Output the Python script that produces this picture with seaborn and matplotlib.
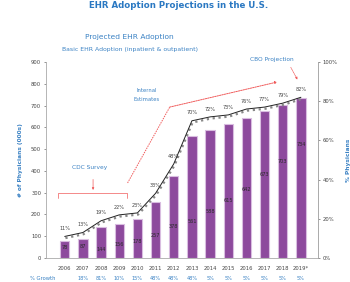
import matplotlib
matplotlib.use("Agg")
import matplotlib.pyplot as plt
import matplotlib.transforms as mtrans
import seaborn as sns
import pandas as pd

years = ["2006", "2007", "2008", "2009", "2010", "2011", "2012", "2013",
         "2014", "2015", "2016", "2017", "2018", "2019*"]
physicians = [78, 87, 144, 156, 178, 257, 378, 561, 588, 615, 642, 673, 703, 734]
pct_adopt = [11, 13, 19, 22, 23, 33, 48, 70, 72, 73, 76, 77, 79, 82]
growth = ["", "18%", "81%", "10%", "15%", "48%", "48%", "48%",
          "5%", "5%", "5%", "5%", "5%", "5%"]
left_ticks = [0, 100, 200, 300, 400, 500, 600, 700, 800, 900]
right_ticks = [0, 20, 40, 60, 80, 100]

# layout only: where inside each bar its value label sits (fraction of height)
label_frac = [0.64, 0.63, 0.28, 0.41, 0.42, 0.40, 0.38, 0.30, 0.36, 0.43,
              0.49, 0.57, 0.63, 0.71]

BLUE = "#3b82c4"
PURPLE = "#8d4a9d"
RED = "#f05a5a"

sns.set_theme(style="white")
plt.rcParams["font.family"] = ["DejaVu Sans"]

fig = plt.figure(figsize=(3.5, 2.82), dpi=100)
ax = fig.add_axes([46 / 350, 24 / 282, 272 / 350, 196 / 282])

df = pd.DataFrame({"year": years, "phys": physicians})
sns.barplot(data=df, x="year", y="phys", order=years, color=PURPLE,
            saturation=1, width=0.52, edgecolor="#d9bde0", linewidth=0.8, ax=ax)
ax.set_ylim(0, 900)
ax.set_yticks(left_ticks)
ax.set_yticklabels([str(t) for t in left_ticks])
ax.set_xlabel("")
ax.set_ylabel("# of Physicians (000s)", color=BLUE, fontsize=4.2,
              fontweight="bold", labelpad=6)
ax.tick_params(axis="both", labelsize=3.8, colors="#444444", length=1.5,
               width=0.4, pad=2)
ax.tick_params(axis="x", pad=4)
ax.spines["top"].set_visible(False)
for s in ["left", "right", "bottom"]:
    ax.spines[s].set_color("#aaaaaa")
    ax.spines[s].set_linewidth(0.6)

for i, (v, f) in enumerate(zip(physicians, label_frac)):
    ax.text(i, v * f, str(v), ha="center", va="center", fontsize=3.6,
            color="#2a2a2a")

ax2 = ax.twinx()
ax2.set_ylim(0, 100)
ax2.set_yticks(right_ticks)
ax2.set_yticklabels([f"{t}%" for t in right_ticks])
ax2.tick_params(axis="y", labelsize=3.8, colors="#444444", length=1.5,
                width=0.4, pad=2)
ax2.set_ylabel("% Physicians", color=BLUE, fontsize=4.2, fontweight="bold",
               labelpad=6)
for s in ["top", "left", "bottom"]:
    ax2.spines[s].set_visible(False)
ax2.spines["right"].set_color("#aaaaaa")
ax2.spines["right"].set_linewidth(0.6)

xs = list(range(len(years)))
shadow_tr = mtrans.offset_copy(ax2.transData, fig=fig, x=0.5, y=-1.2,
                               units="points")
ax2.plot(xs, pct_adopt, color="#888888", lw=1.6, ls=":", transform=shadow_tr)
ax2.plot(xs, pct_adopt, color="#222222", lw=0.7)
for i, p in enumerate(pct_adopt):
    ax2.text(i, p + 4, f"{p}%", ha="center", va="center", fontsize=3.6,
             color="#444444")

# growth row
ax2.text(-0.5, -10.5, "% Growth", ha="right", va="center", fontsize=3.8,
         color=BLUE, clip_on=False)
for i, g in enumerate(growth):
    ax2.text(i, -10.5, g, ha="center", va="center", fontsize=3.6,
             color=BLUE, clip_on=False)

# CDC survey bracket
ax2.plot([-0.35, -0.35, 3.41, 3.41], [30.5, 33, 33, 30.5], color=RED,
         lw=0.5, clip_on=False)
ax2.annotate("", xy=(1.56, 33.3), xytext=(1.56, 41.5),
             arrowprops=dict(arrowstyle="-|>", color=RED, lw=0.5,
                             mutation_scale=3))
ax2.text(1.35, 46, "CDC Survey", ha="center", va="center", fontsize=4.2,
         color=BLUE)

# internal estimates
ax2.plot([3.46, 5.78], [38.3, 77], color=RED, lw=0.7, ls=(0, (1.5, 1)))
ax2.annotate("", xy=(11.7, 89.8), xytext=(5.78, 77),
             arrowprops=dict(arrowstyle="-|>", color=RED, lw=0.7,
                             ls=(0, (1.5, 1)), mutation_scale=3,
                             shrinkA=0, shrinkB=0))
ax2.text(4.49, 85.7, "Internal", ha="center", va="center", fontsize=3.8,
         color=BLUE)
ax2.text(4.49, 81, "Estimates", ha="center", va="center", fontsize=3.8,
         color=BLUE)

# CBO projection
ax2.text(11.4, 101.5, "CBO Projection", ha="center", va="center",
         fontsize=4.2, color=BLUE, clip_on=False)
ax2.annotate("", xy=(12.88, 89.8), xytext=(12.37, 98.5),
             arrowprops=dict(arrowstyle="-|>", color=RED, lw=0.5,
                             ls=(0, (1.5, 1)), mutation_scale=3),
             annotation_clip=False)

fig.text(0.51, 1 - 5 / 282, "EHR Adoption Projections in the U.S.",
         ha="center", va="center", fontsize=6.2, fontweight="bold",
         color="#2a78c2")
fig.text(129 / 350, 1 - 37 / 282, "Projected EHR Adoption", ha="center",
         va="center", fontsize=5.4, color=BLUE)
fig.text(130 / 350, 1 - 49 / 282,
         "Basic EHR Adoption (inpatient & outpatient)", ha="center",
         va="center", fontsize=4.4, color=BLUE)

fig.savefig("out.png", dpi=100)
